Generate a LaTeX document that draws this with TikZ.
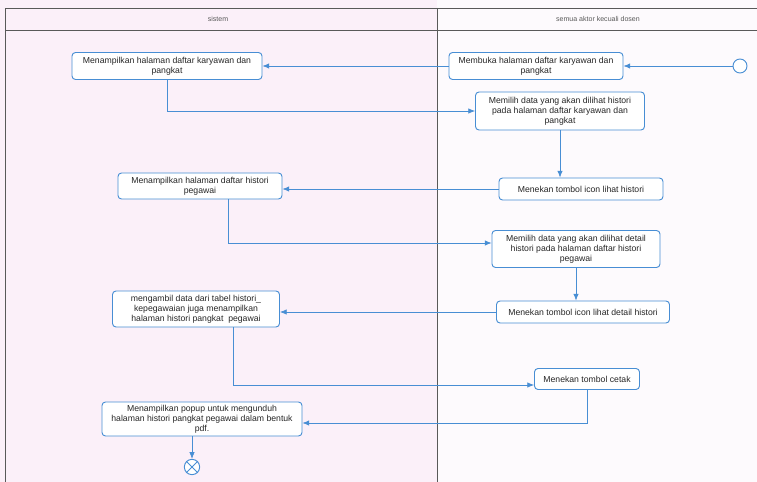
\documentclass[tikz,border=0pt]{standalone}
\usepackage{fontspec}
\setmainfont{Liberation Sans}
\usetikzlibrary{arrows.meta,positioning,calc}
\definecolor{actblue}{RGB}{72,142,212}
\definecolor{lanepink}{RGB}{251,240,249}
\definecolor{lanewhite}{RGB}{253,250,253}

\begin{document}
\begin{tikzpicture}[x=0.03cm, y=-0.03cm,
    act/.style={draw=actblue, thick, rounded corners=3pt, fill=white, align=center,
      font=\fontsize{7.4}{8.6}\selectfont, text=black!85, inner sep=1pt},
    startnode/.style={circle, draw=actblue, thick, fill=white, minimum size=0.42cm, inner sep=0pt},
    endnode/.style={startnode, minimum size=0.46cm},
    lane/.style={draw=black!65, thin},
    head/.style={font=\fontsize{6}{7}\selectfont, text=black!65},
    line/.style={-{Latex[length=2mm, width=1.6mm]}, actblue, semithick},
  ]
  \useasboundingbox (0,0) rectangle (757,482);
  % swimlanes
  \fill[lanepink] (0,0) rectangle (437,482);
  \fill[lanewhite] (437,0) rectangle (757,482);
  \draw[lane] (5,482) -- (5,8) -- (757,8);
  \draw[lane] (5,30) -- (757,30);
  \draw[lane] (437,8) -- (437,482);
  \node[head] (sys) at (218,19) {sistem};
  \node[head] (aktor) at (598,19) {semua aktor kecuali dosen};

  % activities
  \node[startnode] (start) at (740,66) {};
  \node[act, minimum width=5.22cm, minimum height=0.81cm] (buka) at (536,66) {Membuka halaman daftar karyawan dan\\pangkat};
  \node[act, minimum width=5.7cm, minimum height=0.81cm] (tampilkary) at (167,66) {Menampilkan halaman daftar karyawan dan\\pangkat};
  \node[act, minimum width=5.07cm, minimum height=1.14cm] (pilihkary) at (560,111) {Memilih data yang akan dilihat histori\\pada halaman daftar karyawan dan\\pangkat};
  \node[act, minimum width=4.92cm, minimum height=0.66cm] (tekanhist) at (581,189) {Menekan tombol icon lihat histori};
  \node[act, minimum width=4.92cm, minimum height=0.78cm] (tampilhist) at (200,186) {Menampilkan halaman daftar histori\\pegawai};
  \node[act, minimum width=5.04cm, minimum height=1.11cm] (pilihhist) at (576,249) {Memilih data yang akan dilihat detail\\histori pada halaman daftar histori\\pegawai};
  \node[act, minimum width=5.19cm, minimum height=0.66cm] (tekandet) at (583,312) {Menekan tombol icon lihat detail histori};
  \node[act, minimum width=5.01cm, minimum height=1.08cm] (ambil) at (196,309) {mengambil data dari tabel histori\_\\kepegawaian juga menampilkan\\halaman histori pangkat\ \ pegawai};
  \node[act, minimum width=3.15cm, minimum height=0.63cm] (cetak) at (587,379) {Menekan tombol cetak};
  \node[act, minimum width=6.0cm, minimum height=1.02cm] (popup) at (202,419) {Menampilkan popup untuk mengunduh\\halaman histori pangkat pegawai dalam bentuk\\pdf.};
  \node[endnode] (end) at (192,467) {};
  \draw[actblue, thick] (end.45) -- (end.225) (end.135) -- (end.315);

  % flows
  \draw[line] (start) -- (buka);
  \draw[line] (buka) -- (tampilkary);
  \draw[line] (tampilkary.south) |- (pilihkary.west);
  \draw[line] (pilihkary.south) -- (pilihkary.south |- tekanhist.north);
  \draw[line] (tekanhist.west) -- (tekanhist.west -| tampilhist.east);
  \draw[line] ($(tampilhist.south)+(28,0)$) |- ($(pilihhist.west)+(0,-6)$);
  \draw[line] (pilihhist.south) -- (pilihhist.south |- tekandet.north);
  \draw[line] (tekandet.west) -- (tekandet.west -| ambil.east);
  \draw[line] ($(ambil.south)+(37,0)$) |- ($(cetak.west)+(0,6)$);
  \draw[line] (cetak.south) |- ($(popup.east)+(0,4)$);
  \draw[line] (popup.south -| end) -- (end);
\end{tikzpicture}
\end{document}
